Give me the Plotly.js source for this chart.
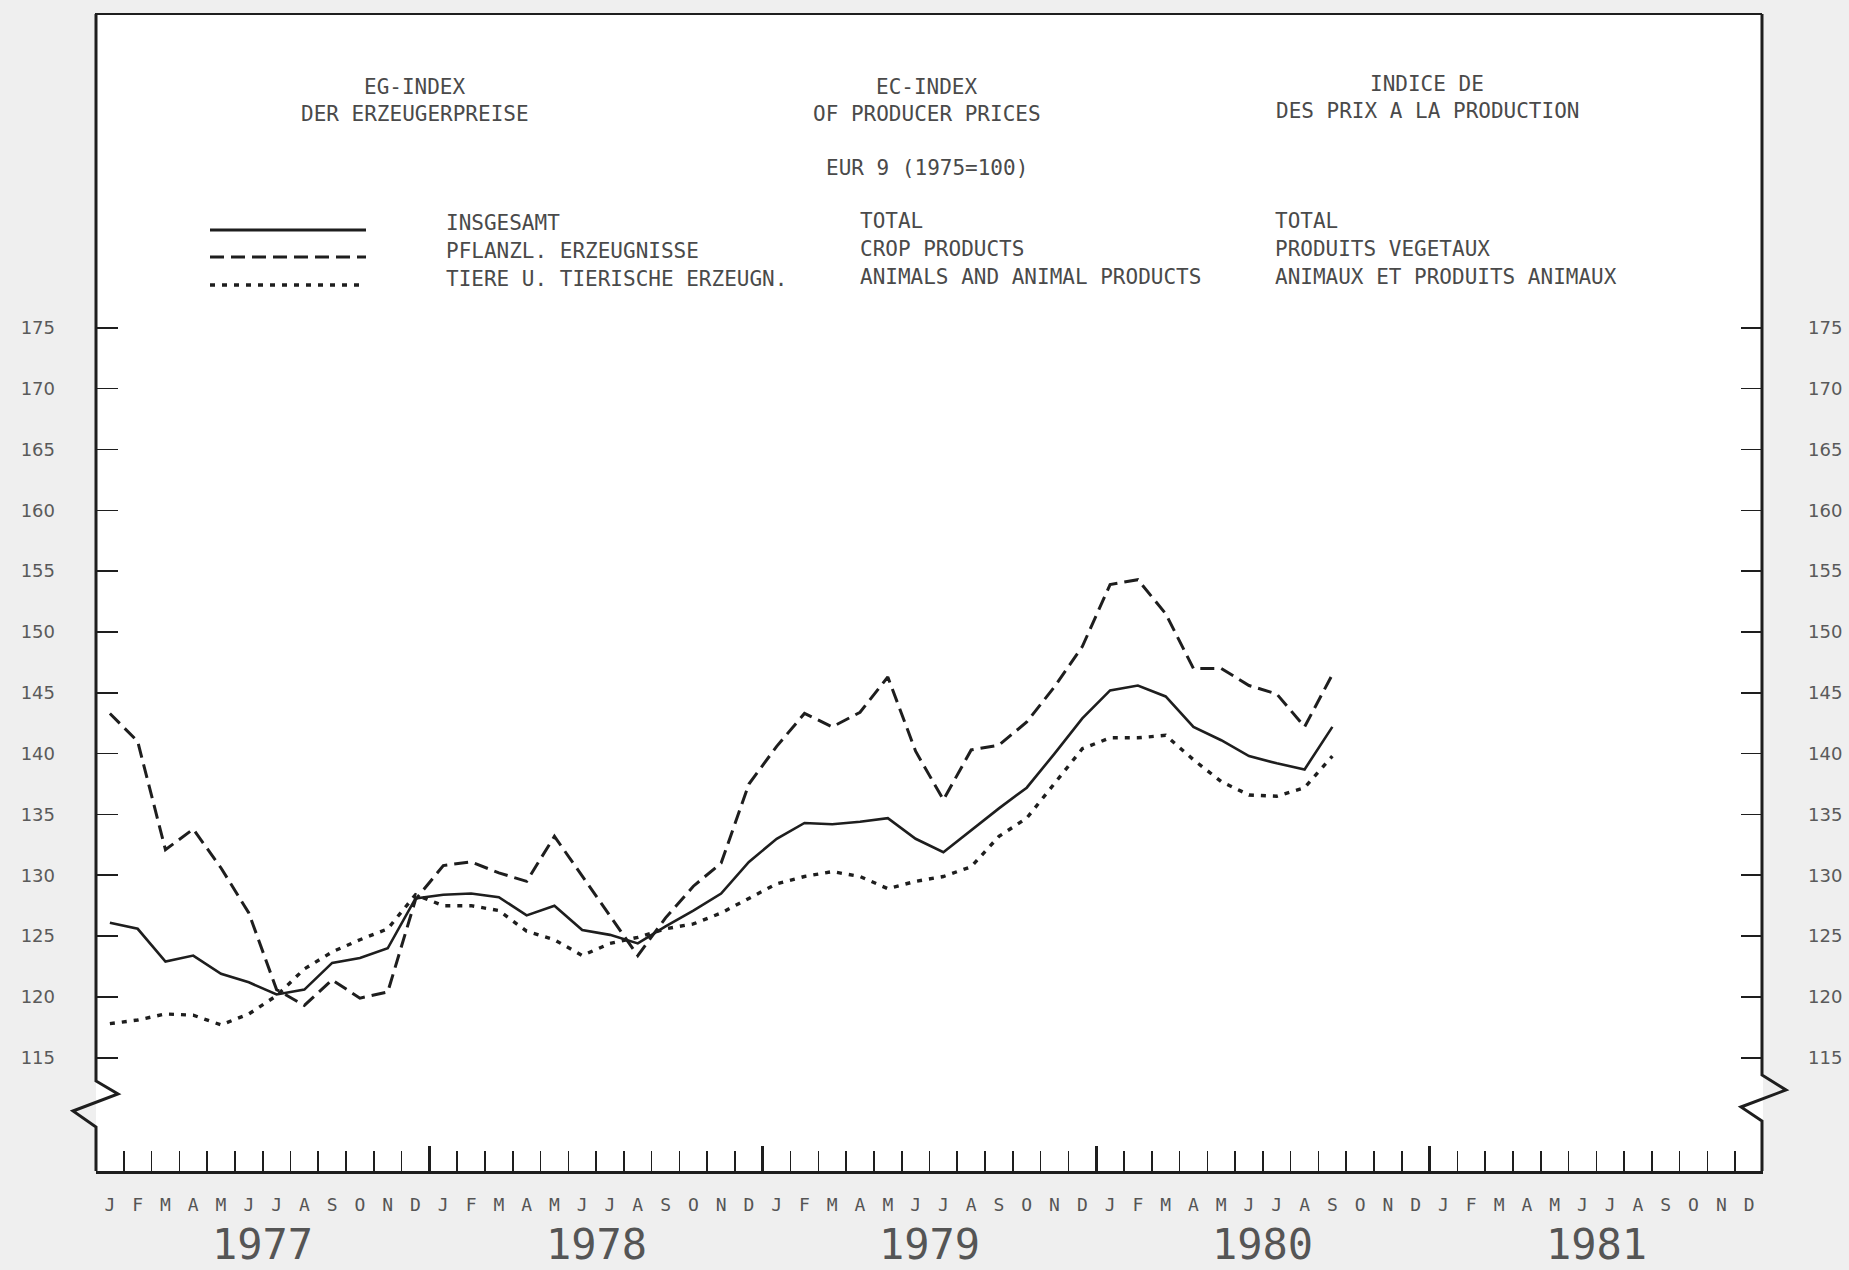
<!DOCTYPE html>
<html>
<head>
<meta charset="utf-8">
<script src="https://cdn.plot.ly/plotly-3.0.1.min.js"></script>
<style>
  html, body { margin: 0; padding: 0; background: #efefef; }
  #chart { width: 1849px; height: 1270px; }
</style>
</head>
<body>
<div id="chart"></div>
<script>
// ---------- data (monthly, January 1977 – September 1980, EUR 9, 1975 = 100) ----------
const monthLetters = ['J','F','M','A','M','J','J','A','S','O','N','D'];
const years = [1977, 1978, 1979, 1980, 1981];
const yTicks = [115, 120, 125, 130, 135, 140, 145, 150, 155, 160, 165, 170, 175];

// INSGESAMT / TOTAL / TOTAL
const total = [126.1,125.6,122.9,123.4,121.9,121.2,120.2,120.6,122.8,123.2,124.0,128.1,
               128.4,128.5,128.2,126.7,127.5,125.5,125.1,124.4,125.8,127.1,128.5,131.1,
               133.0,134.3,134.2,134.4,134.7,133.0,131.9,133.7,135.5,137.2,140.0,142.9,
               145.2,145.6,144.7,142.2,141.1,139.8,139.2,138.7,142.2];
// PFLANZL. ERZEUGNISSE / CROP PRODUCTS / PRODUITS VEGETAUX
const crop = [143.3,141.0,132.1,133.8,130.6,126.9,120.6,119.3,121.4,119.9,120.4,128.0,
              130.8,131.1,130.2,129.5,133.2,129.9,126.7,123.4,126.5,129.1,131.0,137.5,
              140.6,143.3,142.2,143.4,146.3,140.2,136.2,140.3,140.7,142.6,145.5,148.8,
              153.9,154.3,151.5,147.0,147.0,145.6,144.9,142.2,146.5];
// TIERE U. TIERISCHE ERZEUGN. / ANIMALS AND ANIMAL PRODUCTS / ANIMAUX ET PRODUITS ANIMAUX
const animals = [117.8,118.1,118.6,118.5,117.7,118.6,120.1,122.3,123.7,124.7,125.6,128.4,
                 127.5,127.5,127.1,125.4,124.7,123.4,124.4,124.9,125.6,126.0,126.9,128.1,
                 129.3,129.9,130.3,129.9,128.9,129.5,129.9,130.7,133.2,134.7,137.6,140.4,
                 141.3,141.3,141.5,139.5,137.7,136.6,136.5,137.2,139.8];

const titleLines = [
  ['EG-INDEX', 'DER ERZEUGERPREISE'],
  ['EC-INDEX', 'OF PRODUCER PRICES'],
  ['INDICE DE', 'DES PRIX A LA PRODUCTION']
];
const subTitle = 'EUR 9 (1975=100)';
const legendCols = [
  ['INSGESAMT', 'PFLANZL. ERZEUGNISSE', 'TIERE U. TIERISCHE ERZEUGN.'],
  ['TOTAL', 'CROP PRODUCTS', 'ANIMALS AND ANIMAL PRODUCTS'],
  ['TOTAL', 'PRODUITS VEGETAUX', 'ANIMAUX ET PRODUITS ANIMAUX']
];

// ---------- layout geometry ----------
const W = 1849, H = 1270;
const L = 96, R = 1763, T = 14, B = 1171;
const px = x => (x - L) / (R - L);
const py = y => (B - y) / (B - T);
const yRange = [105.69, 200.80];
const nMonths = years.length * 12;

const ink = '#1e1e1e';
const textInk = '#4a4a4a';
const mono = 'DejaVu Sans Mono, Liberation Mono, monospace';

const xMonth = total.map((_, i) => i + 0.5);
const allMonthCenters = Array.from({length: nMonths}, (_, i) => i + 0.5);
const allMonthText = allMonthCenters.map((_, i) => monthLetters[i % 12]);

const traces = [
  {x: xMonth, y: total, type: 'scatter', mode: 'lines', name: 'INSGESAMT',
   line: {color: ink, width: 2.6}, xaxis: 'x', yaxis: 'y', hoverinfo: 'y'},
  {x: xMonth, y: crop, type: 'scatter', mode: 'lines', name: 'PFLANZL. ERZEUGNISSE',
   line: {color: ink, width: 3, dash: '14px,7px'}, xaxis: 'x2', yaxis: 'y2', hoverinfo: 'y'},
  {x: xMonth, y: animals, type: 'scatter', mode: 'lines', name: 'TIERE U. TIERISCHE ERZEUGN.',
   line: {color: ink, width: 3.4, dash: '5px,7px'}, xaxis: 'x', yaxis: 'y', hoverinfo: 'y'}
];

const annotations = [];
const titleX = [415, 927, 1427];
const titleY = [87, 114];
titleLines.forEach((lines, c) => {
  lines.forEach((t, r) => annotations.push({
    text: t, xref: 'paper', yref: 'paper', x: px(titleX[c]), y: py(titleY[r] - (c === 2 ? 3 : 0)),
    xanchor: 'center', yanchor: 'middle', showarrow: false,
    font: {family: mono, size: 21, color: textInk}
  }));
});
annotations.push({
  text: subTitle, xref: 'paper', yref: 'paper', x: px(927), y: py(168),
  xanchor: 'center', yanchor: 'middle', showarrow: false,
  font: {family: mono, size: 21, color: textInk}
});
const legColX = [444, 858, 1273];
const legRowY = [223, 251, 279];
legendCols.forEach((col, c) => {
  col.forEach((t, r) => annotations.push({
    text: t, xref: 'paper', yref: 'paper', x: px(legColX[c]), y: py(legRowY[r] - (c > 0 ? 2 : 0)),
    xanchor: 'left', yanchor: 'middle', showarrow: false,
    font: {family: mono, size: 21, color: textInk}
  }));
});
years.forEach((yr, k) => annotations.push({
  text: String(yr), xref: 'x', yref: 'paper', x: k * 12 + 6, y: py(1244),
  xanchor: 'center', yanchor: 'middle', showarrow: false,
  font: {family: mono, size: 42, color: '#555'}
}));

const P = (x, y) => px(x).toFixed(5) + ',' + py(y).toFixed(5);
const shapes = [
  // top border of the frame
  {type: 'line', xref: 'paper', yref: 'paper', x0: px(95), x1: px(1762), y0: py(14), y1: py(14),
   line: {color: ink, width: 2}},
  // left axis with break
  {type: 'path', xref: 'paper', yref: 'paper',
   path: 'M' + P(96, 14) + ' L' + P(96, 1081) + ' L' + P(118, 1094) + ' L' + P(73, 1111) +
         ' L' + P(96, 1127) + ' L' + P(96, 1171),
   line: {color: ink, width: 3}},
  // right axis with break
  {type: 'path', xref: 'paper', yref: 'paper',
   path: 'M' + P(1762, 14) + ' L' + P(1762, 1075) + ' L' + P(1786, 1090) + ' L' + P(1741, 1107) +
         ' L' + P(1762, 1121) + ' L' + P(1762, 1171),
   line: {color: ink, width: 3}},
  // legend keys
  {type: 'line', xref: 'paper', yref: 'paper', x0: px(210), x1: px(366), y0: py(230), y1: py(230),
   line: {color: ink, width: 3}},
  {type: 'line', xref: 'paper', yref: 'paper', x0: px(210), x1: px(366), y0: py(257), y1: py(257),
   line: {color: ink, width: 3, dash: '14px,7px'}},
  {type: 'line', xref: 'paper', yref: 'paper', x0: px(210), x1: px(366), y0: py(285), y1: py(285),
   line: {color: ink, width: 3.4, dash: '5px,7px'}}
];

const yTickFont = {family: 'DejaVu Sans, sans-serif', size: 18, color: '#5a5a5a'};
const layout = {
  width: W, height: H,
  margin: {l: L, r: W - R, t: T, b: H - B, pad: 0},
  paper_bgcolor: '#efefef', plot_bgcolor: '#ffffff',
  showlegend: false,
  font: {family: mono, color: textInk},
  xaxis: {
    range: [0, nMonths], showgrid: false, zeroline: false, fixedrange: true,
    showline: true, linecolor: ink, linewidth: 3,
    tickmode: 'array', tickvals: years.slice(1).map((_, k) => (k + 1) * 12),
    ticks: 'inside', ticklen: 25, tickwidth: 3, tickcolor: ink, showticklabels: false,
    minor: {tickmode: 'linear', tick0: 0, dtick: 1, ticks: 'inside', ticklen: 20, tickwidth: 1.6, tickcolor: ink}
  },
  xaxis2: {
    overlaying: 'x', anchor: 'y', side: 'bottom', range: [0, nMonths],
    showgrid: false, zeroline: false, showline: false, fixedrange: true,
    tickmode: 'array', tickvals: allMonthCenters, ticktext: allMonthText,
    ticks: '', ticklabelstandoff: 21,
    tickfont: {family: mono, size: 18, color: '#555'}
  },
  yaxis: {
    range: yRange, showgrid: false, zeroline: false, showline: false, fixedrange: true,
    tickmode: 'array', tickvals: yTicks, ticktext: yTicks.map(String),
    ticks: 'inside', ticklen: 22, tickwidth: 1.6, tickcolor: ink,
    ticklabelstandoff: 40, tickfont: yTickFont
  },
  yaxis2: {
    overlaying: 'y', anchor: 'x', side: 'right', range: yRange,
    showgrid: false, zeroline: false, showline: false, fixedrange: true,
    tickmode: 'array', tickvals: yTicks, ticktext: yTicks.map(String),
    ticks: 'inside', ticklen: 22, tickwidth: 1.6, tickcolor: ink,
    ticklabelstandoff: 44, tickfont: yTickFont
  },
  annotations: annotations,
  shapes: shapes
};

Plotly.newPlot('chart', traces, layout, {displayModeBar: false, staticPlot: true});
</script>
</body>
</html>
